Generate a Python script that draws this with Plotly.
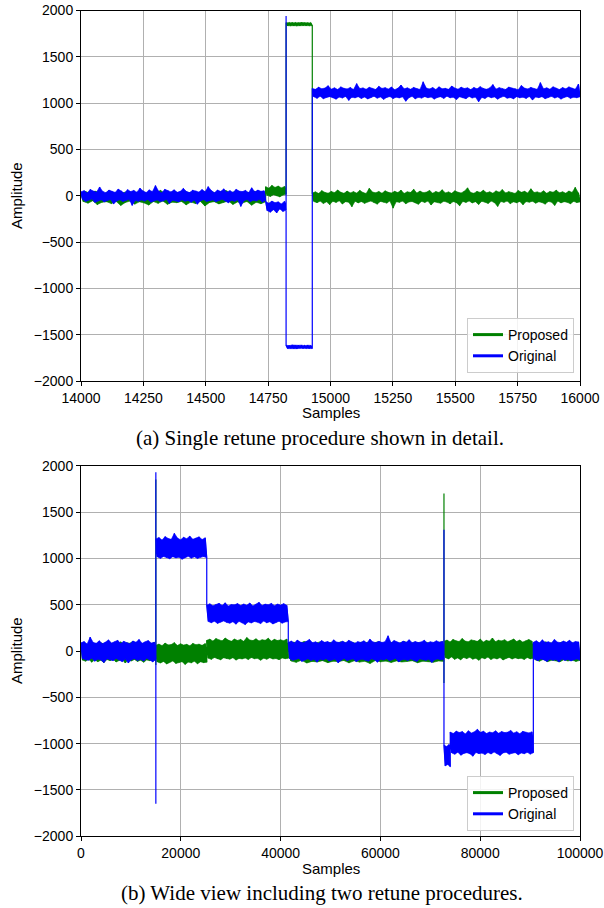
import numpy as np
import plotly.graph_objects as go

GREEN = "#008000"
BLUE = "#0000ff"
W, H = 604, 908

# ------------------------------------------------------------------
# (a) Detail view, samples 14000-16000.
# Segment boundaries (samples); each segment holds the decimated trace
# (alternating local maxima / minima of the noisy signal).
a_bounds = [14000, 14740, 14822, 14927, 16000]

a_prop_seg1 = [30, -62, 45, -80, 25, -55, 50, -95, 35, -70, 20, -65, 55, -85, 28, -60, 40, -105, 32, -72,
               48, -58, 22, -90, 38, -66, 52, -78, 26, -100, 42, -63, 30, -82, 58, -57, 24, -92, 36, -69,
               46, -75, 29, -61, 54, -98, 33, -68, 41, -84, 27, -59, 50, -110, 35, -73, 44, -64, 23, -88,
               39, -71, 56, -56, 31, -94, 47, -67, 26, -79, 43, -62, 34, -102, 51, -70, 28, -86, 40, -65]
a_prop_seg2 = [98, 5, 82, -8, 112, 12, 90, 0, 105, -12, 85, 8, 100, 15]
a_prop_seg3 = [1868, 1836, 1866, 1839, 1869, 1835, 1865, 1838, 1867, 1836, 1870, 1837, 1866, 1835,
               1868, 1839, 1865, 1836]
a_prop_seg4 = [30, -62, 42, -75, 25, -58, 55, -84, 36, -66, 28, -95, 47, -60, 33, -72, 62, -55, 38, -88,
               26, -64, 50, -70, 31, -118, 44, -59, 29, -77, 58, -63, 35, -82, 24, -68, 80, -57, 40, -74,
               32, -90, 46, -61, 27, -69, 53, -79, 37, -56, 30, -133, 48, -65, 34, -71, 60, -58, 25, -86,
               43, -67, 36, -62, 70, -76, 29, -92, 51, -60, 33, -73, 39, -57, 57, -100, 28, -66, 45, -70,
               35, -81, 64, -59, 31, -68, 41, -87, 26, -63, 54, -75, 38, -108, 30, -61, 49, -72, 85, -56,
               34, -78, 27, -64, 47, -94, 36, -60, 59, -69, 32, -83, 42, -58, 28, -74, 52, -115, 39, -62,
               66, -71, 30, -57, 44, -85, 33, -66, 25, -76, 56, -61, 37, -97, 48, -63, 29, -70, 75, -59,
               35, -80, 41, -65, 31, -73, 53, -90, 26, -62, 46, -68, 38, -104, 60, -58, 32, -77, 43, -64,
               28, -71, 51, -86, 36, -60, 90, -74, 30, -67]

a_orig_seg1 = [42, -38, 55, -61, 30, -47, 68, -35, 51, -72, 38, -55, 95, -44, 47, -66, 33, -52, 61, -40,
               49, -88, 36, -57, 72, -43, 54, -63, 28, -49, 66, -37, 45, -104, 58, -51, 39, -60, 82, -46,
               52, -58, 35, -41, 63, -69, 44, -53, 110, -45, 50, -62, 31, -56, 70, -39, 57, -82, 41, -48,
               64, -54, 37, -66, 48, -43, 79, -59, 46, -50, 34, -71, 60, -47, 53, -92, 40, -55, 67, -42,
               43, -61, 98, -50, 56, -45, 32, -64, 62, -52, 47, -38, 74, -57, 39, -76, 55, -49, 36, -60,
               69, -44, 50, -115, 45, -53, 58, -41, 33, -65, 86, -48, 42, -56, 61, -39, 48, -70, 54, -46]
a_orig_seg2 = [-62, -160, -80, -178, -58, -150, -75, -185, -66, -142, -88, -170, -60, -155]
a_orig_seg3 = [-1614, -1650, -1618, -1646, -1612, -1649, -1617, -1651, -1615, -1647, -1613, -1650,
               -1619, -1645, -1614, -1648, -1616, -1650]
a_orig_seg4 = [1158, 1068, 1149, 1052, 1172, 1074, 1155, 1047, 1163, 1061, 1188, 1070, 1151, 1058, 1166, 1043, 1147, 1065, 1175, 1055,
               1160, 1072, 1153, 1030, 1169, 1063, 1146, 1057, 1210, 1069, 1157, 1050, 1164, 1066, 1150, 1045, 1171, 1060, 1156, 1074,
               1148, 1053, 1182, 1067, 1159, 1041, 1167, 1062, 1152, 1071, 1174, 1049, 1145, 1064, 1161, 1056, 1195, 1068, 1154, 1020,
               1165, 1059, 1150, 1073, 1170, 1046, 1157, 1063, 1148, 1054, 1231, 1070, 1162, 1058, 1153, 1066, 1168, 1044, 1147, 1061,
               1176, 1069, 1155, 1051, 1160, 1075, 1149, 1057, 1185, 1064, 1163, 1039, 1151, 1068, 1172, 1060, 1158, 1048, 1166, 1072,
               1146, 1055, 1169, 1065, 1154, 1015, 1178, 1062, 1159, 1050, 1150, 1071, 1164, 1058, 1200, 1067, 1152, 1043, 1167, 1063,
               1156, 1074, 1148, 1053, 1173, 1060, 1161, 1046, 1157, 1069, 1145, 1057, 1190, 1064, 1162, 1051, 1153, 1072, 1170, 1035,
               1158, 1066, 1149, 1059, 1221, 1070, 1155, 1048, 1165, 1062, 1151, 1073, 1177, 1055, 1160, 1067, 1147, 1044, 1168, 1061,
               1154, 1071, 1175, 1052, 1163, 1064, 1150, 1058, 1205, 1068]

# transient peaks at the retune instant (sample, values)
a_prop_spike_x = []
a_prop_spike_y = []
a_orig_spike_x = [14822]
a_orig_spike_y = [[1940]]

# ------------------------------------------------------------------
# (b) Wide view, samples 0-100000.
b_prop_bounds = [0, 15000, 25200, 41540, 72740, 90650, 100000]
b_orig_bounds = [0, 15000, 25200, 41540, 72740, 74000, 90650, 100000]

b_prop_seg1 = [78, -98, 92, -110, 70, -90, 100, -120, 85, -95, 74, -115, 96, -100, 82, -125, 68, -92, 104, -105,
               80, -88, 90, -118, 76, -102, 98, -94, 72, -130, 88, -97, 84, -108, 106, -91, 79, -112, 93, -99,
               75, -122, 87, -96, 101, -104, 73, -89, 95, -110]
b_prop_seg2 = [62, -118, 75, -130, 58, -112, 85, -140, 66, -122, 70, -108, 90, -135, 60, -125, 78, -115, 64, -145,
               72, -120, 56, -128, 82, -110, 68, -138, 74, -117, 61, -126, 80, -121]
b_prop_seg3 = [115, -78, 128, -90, 108, -70, 135, -85, 120, -95, 110, -74, 140, -82, 118, -88, 106, -72, 130, -98,
               114, -80, 125, -86, 104, -76, 145, -92, 119, -71, 112, -84, 132, -79, 109, -100, 122, -77, 116, -89,
               138, -73, 107, -87, 126, -81, 113, -94, 121, -75, 111, -83, 129, -78]
b_prop_seg4 = [88, -108, 96, -122, 80, -100, 102, -130, 90, -112, 84, -118, 98, -104, 86, -126, 92, -110, 82, -115,
               100, -102, 87, -128, 94, -106, 81, -120, 97, -111, 89, -135, 85, -103, 99, -117, 83, -109, 95, -124,
               91, -107, 86, -119, 101, -113, 84, -105, 93, -127, 88, -110, 96, -116, 82, -121, 90, -108, 98, -112]
b_prop_seg5 = [105, -72, 118, -85, 98, -64, 125, -90, 110, -75, 102, -95, 135, -70, 108, -82, 99, -68, 120, -88,
               112, -78, 104, -100, 128, -73, 97, -84, 115, -66, 106, -92, 140, -76, 101, -86, 117, -71, 109, -97,
               122, -80, 100, -69, 113, -87, 130, -74, 103, -83, 119, -78, 96, -91, 111, -70, 124, -85, 107, -79]
b_prop_seg6 = [82, -96, 94, -110, 76, -90, 98, -115, 85, -100, 90, -106, 79, -118, 96, -94, 87, -108, 100, -98,
               81, -112, 92, -101]

b_orig_seg1 = [88, -82, 102, -95, 75, -100, 150, -78, 92, -110, 84, -88, 110, -97, 79, -125, 96, -84, 120, -92,
               86, -105, 99, -80, 115, -98, 81, -115, 105, -86, 90, -130, 77, -94, 108, -83, 95, -102, 125, -90,
               83, -108, 100, -79, 112, -96, 87, -118, 94, -88]
b_orig_seg2 = [1210, 1015, 1225, 1000, 1198, 1020, 1235, 1008, 1215, 995, 1205, 1018, 1270, 1005, 1220, 1012, 1200, 990, 1228, 1010,
               1212, 1022, 1240, 1002, 1206, 1016, 1218, 998, 1232, 1011, 1203, 1019, 1222, 1006]
b_orig_seg3 = [495, 318, 510, 305, 488, 322, 505, 298, 515, 312, 492, 325, 520, 308, 485, 300, 502, 316, 498, 290,
               512, 320, 490, 306, 508, 285, 494, 314, 518, 302, 487, 319, 503, 310, 525, 296, 491, 323, 506, 304,
               499, 315, 514, 292, 489, 309, 507, 321, 496, 300, 511, 313, 493, 318]
b_orig_seg4 = [92, -86, 108, -100, 85, -92, 118, -80, 96, -112, 88, -95, 104, -84, 125, -102, 90, -90, 99, -120,
               83, -88, 112, -97, 94, -83, 102, -108, 87, -93, 120, -86, 97, -128, 91, -99, 106, -82, 89, -104,
               115, -91, 95, -87, 84, -115, 101, -95, 93, -89, 110, -100, 86, -110, 128, -85, 98, -94, 90, -122,
               105, -88, 92, -97, 100, -84, 165, -106, 88, -92, 113, -81, 96, -118, 85, -96, 107, -90, 94, -103,
               122, -87, 89, -99, 103, -113, 91, -85, 98, -94, 116, -101, 87, -89, 100, -125, 93, -92, 110, -86,
               95, -97, 104, -90]
b_orig_seg5 = [-1015, -1240, -1030, -1225, -1010, -1250]
b_orig_seg6 = [-875, -1100, -890, -1115, -865, -1092, -880, -1125, -870, -1105, -895, -1098, -860, -1110, -885, -1135, -872, -1095, -845, -1108,
               -878, -1102, -866, -1118, -890, -1096, -874, -1112, -883, -1090, -862, -1106, -888, -1128, -869, -1100, -881, -1093, -876, -1115,
               -858, -1104, -886, -1097, -871, -1120, -893, -1101, -867, -1109, -879, -1094, -884, -1113, -873, -1099]
b_orig_seg7 = [95, -90, 110, -104, 88, -85, 120, -96, 92, -112, 100, -88, 86, -100, 125, -93, 97, -118, 90, -87,
               108, -102, 94, -91, 115, -108, 89, -95, 103, -86, 98, -99]

b_prop_spike_x = [15000, 72740]
b_prop_spike_y = [[1850, -150], [1700, -345]]
b_orig_spike_x = [15000, 72740]
b_orig_spike_y = [[1930, -1650], [1310]]

ytick_vals = [-2000, -1500, -1000, -500, 0, 500, 1000, 1500, 2000]


# ------------------------------------------------------------------
def trace_xy(bounds, segs, spike_x, spike_y):
    """Join the segments into one trace; transient peaks sit on the boundaries."""
    xs, ys = [], []
    for i, seg in enumerate(segs):
        x0, x1 = bounds[i], bounds[i + 1]
        if x0 in spike_x:
            for v in spike_y[spike_x.index(x0)]:
                xs.append(x0)
                ys.append(v)
        xs += list(np.linspace(x0, x1, len(seg)))
        ys += list(seg)
    return xs, ys


def envelope_xy(bounds, segs):
    """Closed outline between the maxima and minima of each segment."""
    xs, ys = [], []
    for i, seg in enumerate(segs):
        x = np.linspace(bounds[i], bounds[i + 1], len(seg))
        seg = np.asarray(seg, dtype=float)
        hx, hy = x[0::2], seg[0::2]
        lx, ly = x[1::2], seg[1::2]
        xs += list(hx) + list(lx[::-1]) + [hx[0], None]
        ys += list(hy) + list(ly[::-1]) + [hy[0], None]
    return xs, ys


def signal(bounds, segs, spike_x, spike_y, color, width, xa, ya):
    ex, ey = envelope_xy(bounds, segs)
    body = go.Scatter(x=ex, y=ey, mode="lines", fill="toself", fillcolor=color,
                      line=dict(color=color, width=0.6), xaxis=xa, yaxis=ya,
                      showlegend=False, hoverinfo="skip")
    xs, ys = trace_xy(bounds, segs, spike_x, spike_y)
    line = go.Scatter(x=xs, y=ys, mode="lines", line=dict(color=color, width=width),
                      xaxis=xa, yaxis=ya, showlegend=False, hoverinfo="skip")
    return [body, line]


def legend_trace(name, color, legend, xa, ya):
    return go.Scatter(x=[None], y=[None], mode="lines", name=name,
                      line=dict(color=color, width=3), legend=legend, xaxis=xa, yaxis=ya)


fig = go.Figure()

fig.add_traces(signal(a_bounds, [a_prop_seg1, a_prop_seg2, a_prop_seg3, a_prop_seg4],
                      a_prop_spike_x, a_prop_spike_y, GREEN, 1.2, "x", "y"))
fig.add_traces(signal(a_bounds, [a_orig_seg1, a_orig_seg2, a_orig_seg3, a_orig_seg4],
                      a_orig_spike_x, a_orig_spike_y, BLUE, 1.2, "x", "y"))
fig.add_trace(legend_trace("Proposed", GREEN, "legend", "x", "y"))
fig.add_trace(legend_trace("Original", BLUE, "legend", "x", "y"))

fig.add_traces(signal(b_prop_bounds,
                      [b_prop_seg1, b_prop_seg2, b_prop_seg3, b_prop_seg4, b_prop_seg5, b_prop_seg6],
                      b_prop_spike_x, b_prop_spike_y, GREEN, 1.2, "x2", "y2"))
fig.add_traces(signal(b_orig_bounds,
                      [b_orig_seg1, b_orig_seg2, b_orig_seg3, b_orig_seg4, b_orig_seg5, b_orig_seg6,
                       b_orig_seg7],
                      b_orig_spike_x, b_orig_spike_y, BLUE, 1.2, "x2", "y2"))
fig.add_trace(legend_trace("Proposed", GREEN, "legend2", "x2", "y2"))
fig.add_trace(legend_trace("Original", BLUE, "legend2", "x2", "y2"))

TICKFONT = dict(family="Liberation Sans, Arial, sans-serif", size=14, color="black")
LABELFONT = dict(family="Liberation Sans, Arial, sans-serif", size=15, color="black")
CAPFONT = dict(family="Liberation Serif, Times New Roman, serif", size=21, color="black")

axis_common = dict(showline=True, mirror=True, linecolor="black", linewidth=1,
                   ticks="outside", ticklen=4, tickwidth=1, tickcolor="black",
                   showgrid=True, gridcolor="#b0b0b0", gridwidth=1, zeroline=False,
                   tickfont=TICKFONT, tickformat="d", automargin=False)

x_dom = [81 / W, 580 / W]
fig.update_layout(
    width=W, height=H, margin=dict(l=0, r=0, t=0, b=0, autoexpand=False),
    paper_bgcolor="white", plot_bgcolor="white",
    xaxis=dict(domain=x_dom, range=[14000, 16000], dtick=250, tick0=14000, anchor="y", **axis_common),
    yaxis=dict(domain=[1 - 381 / H, 1 - 10.5 / H], range=[-2000, 2000], tickvals=ytick_vals,
               anchor="x", **axis_common),
    xaxis2=dict(domain=x_dom, range=[0, 100000], dtick=20000, tick0=0, anchor="y2", **axis_common),
    yaxis2=dict(domain=[1 - 836.3 / H, 1 - 465.7 / H], range=[-2000, 2000], tickvals=ytick_vals,
                anchor="x2", **axis_common),
    legend=dict(x=574 / W, xanchor="right", y=1 - 373 / H, yanchor="bottom",
                bgcolor="rgba(255,255,255,0.85)", bordercolor="#cccccc", borderwidth=1,
                font=TICKFONT, tracegroupgap=0),
    legend2=dict(x=574 / W, xanchor="right", y=1 - 831 / H, yanchor="bottom",
                 bgcolor="rgba(255,255,255,0.85)", bordercolor="#cccccc", borderwidth=1,
                 font=TICKFONT, tracegroupgap=0),
)


def ann(text, px, py, font, angle=0):
    fig.add_annotation(text=text, x=px / W, y=1 - py / H, xref="paper", yref="paper",
                       xanchor="center", yanchor="middle", showarrow=False,
                       font=font, textangle=angle)


ann("Amplitude", 16, 196, LABELFONT, -90)
ann("Amplitude", 16, 651, LABELFONT, -90)
ann("Samples", 330.5, 413, LABELFONT)
ann("Samples", 330.5, 868, LABELFONT)
ann("(a) Single retune procedure shown in detail.", 320, 438, CAPFONT)
ann("(b) Wide view including two retune procedures.", 322, 893, CAPFONT)

fig.write_html("out.html")
